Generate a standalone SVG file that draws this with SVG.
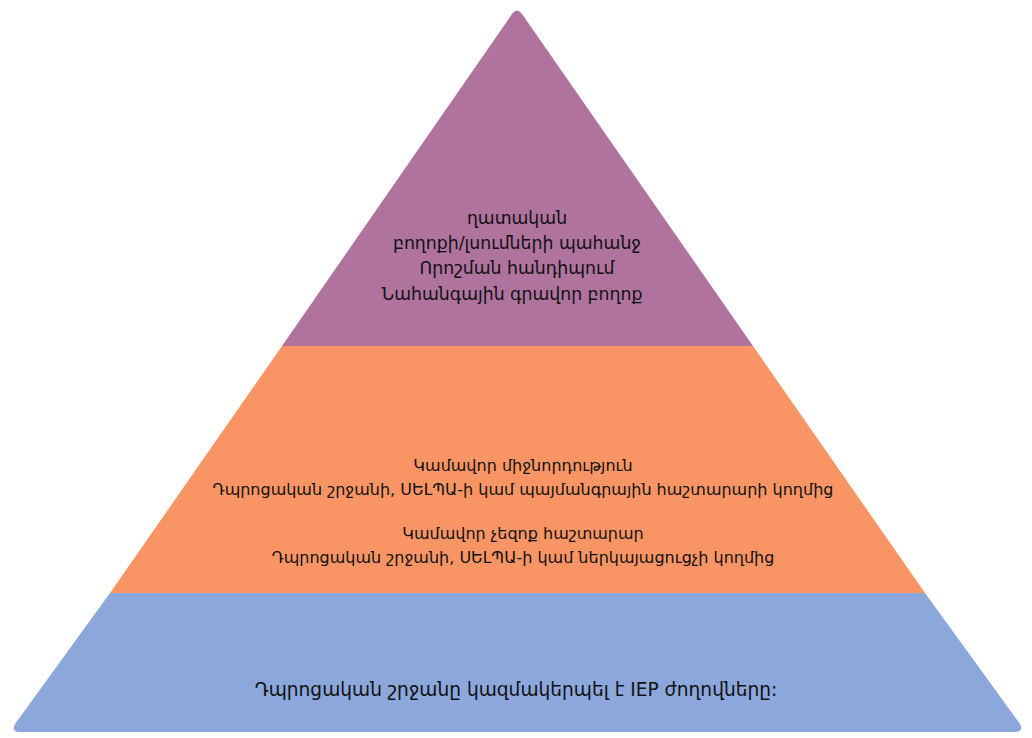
<svg xmlns="http://www.w3.org/2000/svg" width="1032" height="738" viewBox="0 0 1032 738">
<style>
text{font-family:"DejaVu Sans","Noto Sans",sans-serif;fill:#111;text-anchor:middle;font-size:16px}
.top{font-size:17.3px}
.big{font-size:18.6px}
</style>
<rect width="1032" height="738" fill="#fff"/>
<g id="tier-top">
<path d="M282,346 L512,14 Q517,7 522,14 L753,346 Z" fill="#AF739E"/>
<text class="top" x="517" y="224">ղատական</text>
<text class="top" x="517" y="249">բողոքի/լսումների պահանջ</text>
<text class="top" x="517" y="274">Որոշման հանդիպում</text>
<text class="top" x="512" y="300">Նահանգային գրավոր բողոք</text>
</g>
<g id="tier-middle">
<polygon points="282,346 753,346 925,593 110,593" fill="#F99564"/>
<text x="523" y="471">Կամավոր միջնորդություն</text>
<text x="523" y="495">Դպրոցական շրջանի, ՍԵԼՊԱ-ի կամ պայմանգրային հաշտարարի կողմից</text>
<text x="523" y="539">Կամավոր չեզոք հաշտարար</text>
<text x="523" y="563">Դպրոցական շրջանի, ՍԵԼՊԱ-ի կամ ներկայացուցչի կողմից</text>
</g>
<g id="tier-bottom">
<path d="M110,593 L925,593 L1020,724 Q1024,732 1014,732 L20,732 Q11,732 15,724 Z" fill="#8BA7DB"/>
<text class="big" x="516" y="696">Դպրոցական շրջանը կազմակերպել է IEP ժողովները:</text>
</g>
<g id="connectors"/>
</svg>
